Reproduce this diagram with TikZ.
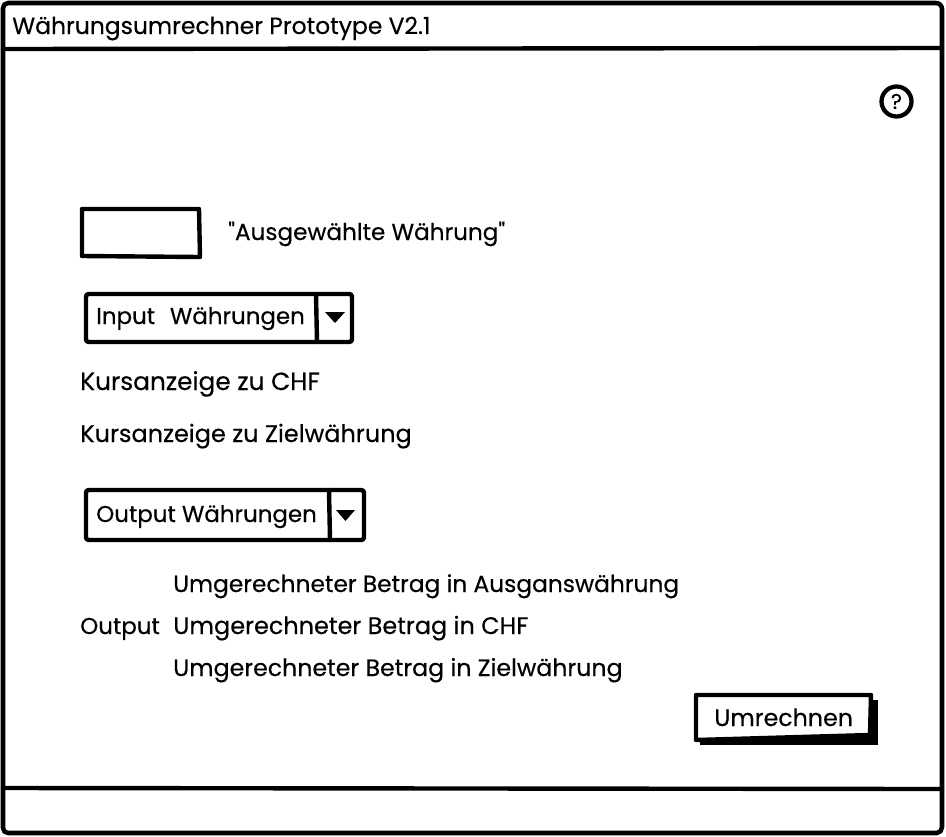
\documentclass[tikz,border=0pt]{standalone}
\usepackage{fontspec}
\setmainfont{Poppins}[Ligatures=NoCommon,RawFeature={embolden=0.35}]
\newfontfamily\plainfont{Poppins}[RawFeature={embolden=0.35}]
\tikzset{
  x=0.75pt,y=-0.75pt,
  ink/.style={draw=black,line width=3.3pt,line join=round,line cap=round},
  label text/.style={anchor=base west,inner sep=0pt,font=\plainfont\fontsize{#1}{20}\selectfont,text=black},
  label text/.default=17.5,
}
\begin{document}
\begin{tikzpicture}
\useasboundingbox (0,0) rectangle (946,836);
\fill[white] (0,0) rectangle (946,836);
% window frame
\draw[ink,line width=3.4pt] (8,3) -- (936,3) to[out=0,in=90] (942,9) -- (942,827) to[out=-90,in=0] (937,833) -- (8,833) to[out=180,in=-90] (3,828) -- (3,8) to[out=90,in=180] (8,3);
\draw[ink] (3,49) -- (942,48);
\draw[ink] (3,788) -- (942,789);
\node[label text=17.6] (title) at (12,34) {Währungsumrechner Prototype V2.1};
% help icon
\node[draw=black,line width=3.2pt,circle,minimum size=22.5pt,inner sep=0pt,font=\plainfont\fontsize{16}{16}\selectfont] (help) at (896.5,101.5) {?};
% selected currency box
\draw[ink] (82,209) -- (199,209) -- (200,257) -- (82,256) -- cycle;
\node[label text=17.35] (sel) at (228,240) {"Ausgewählte Währung"};
% input combo
\draw[ink,rounded corners=2pt] (86,294) rectangle (352,342);
\draw[ink] (316,294) -- (317,342);
\fill[black] (325,312) -- (345,312) -- (335,323) -- cycle;
\node[label text=17.2] (inp) at (96,324) {Input\hspace{0.38em} Währungen};
\node[label text=18.6] (k1) at (80,390) {Kursanzeige zu CHF};
\node[label text=18] (k2) at (80,442) {Kursanzeige zu Zielwährung};
% output combo
\draw[ink,rounded corners=2pt] (86,490) rectangle (364,540);
\draw[ink] (329,490) -- (330,540);
\fill[black] (336,510) -- (355,510) -- (345.5,521) -- cycle;
\node[label text=17.2] (outc) at (96,522) {Output Währungen};
% outputs
\node[label text=17.5] (o1) at (173,592) {Umgerechneter Betrag in Ausganswährung};
\node[label text=17.2] (o0) at (80,634) {Output};
\node[label text=17.95] (o2) at (173,634) {Umgerechneter Betrag in CHF};
\node[label text=17.75] (o3) at (173,676) {Umgerechneter Betrag in Zielwährung};
% button
\fill[black] (700,700) rectangle (878,745);
\draw[ink,fill=white] (696,695) -- (871,695) -- (870,735) -- (696,740) -- cycle;
\node[label text=17.8] (btn) at (714,726) {Umrechnen};
\end{tikzpicture}
\end{document}
